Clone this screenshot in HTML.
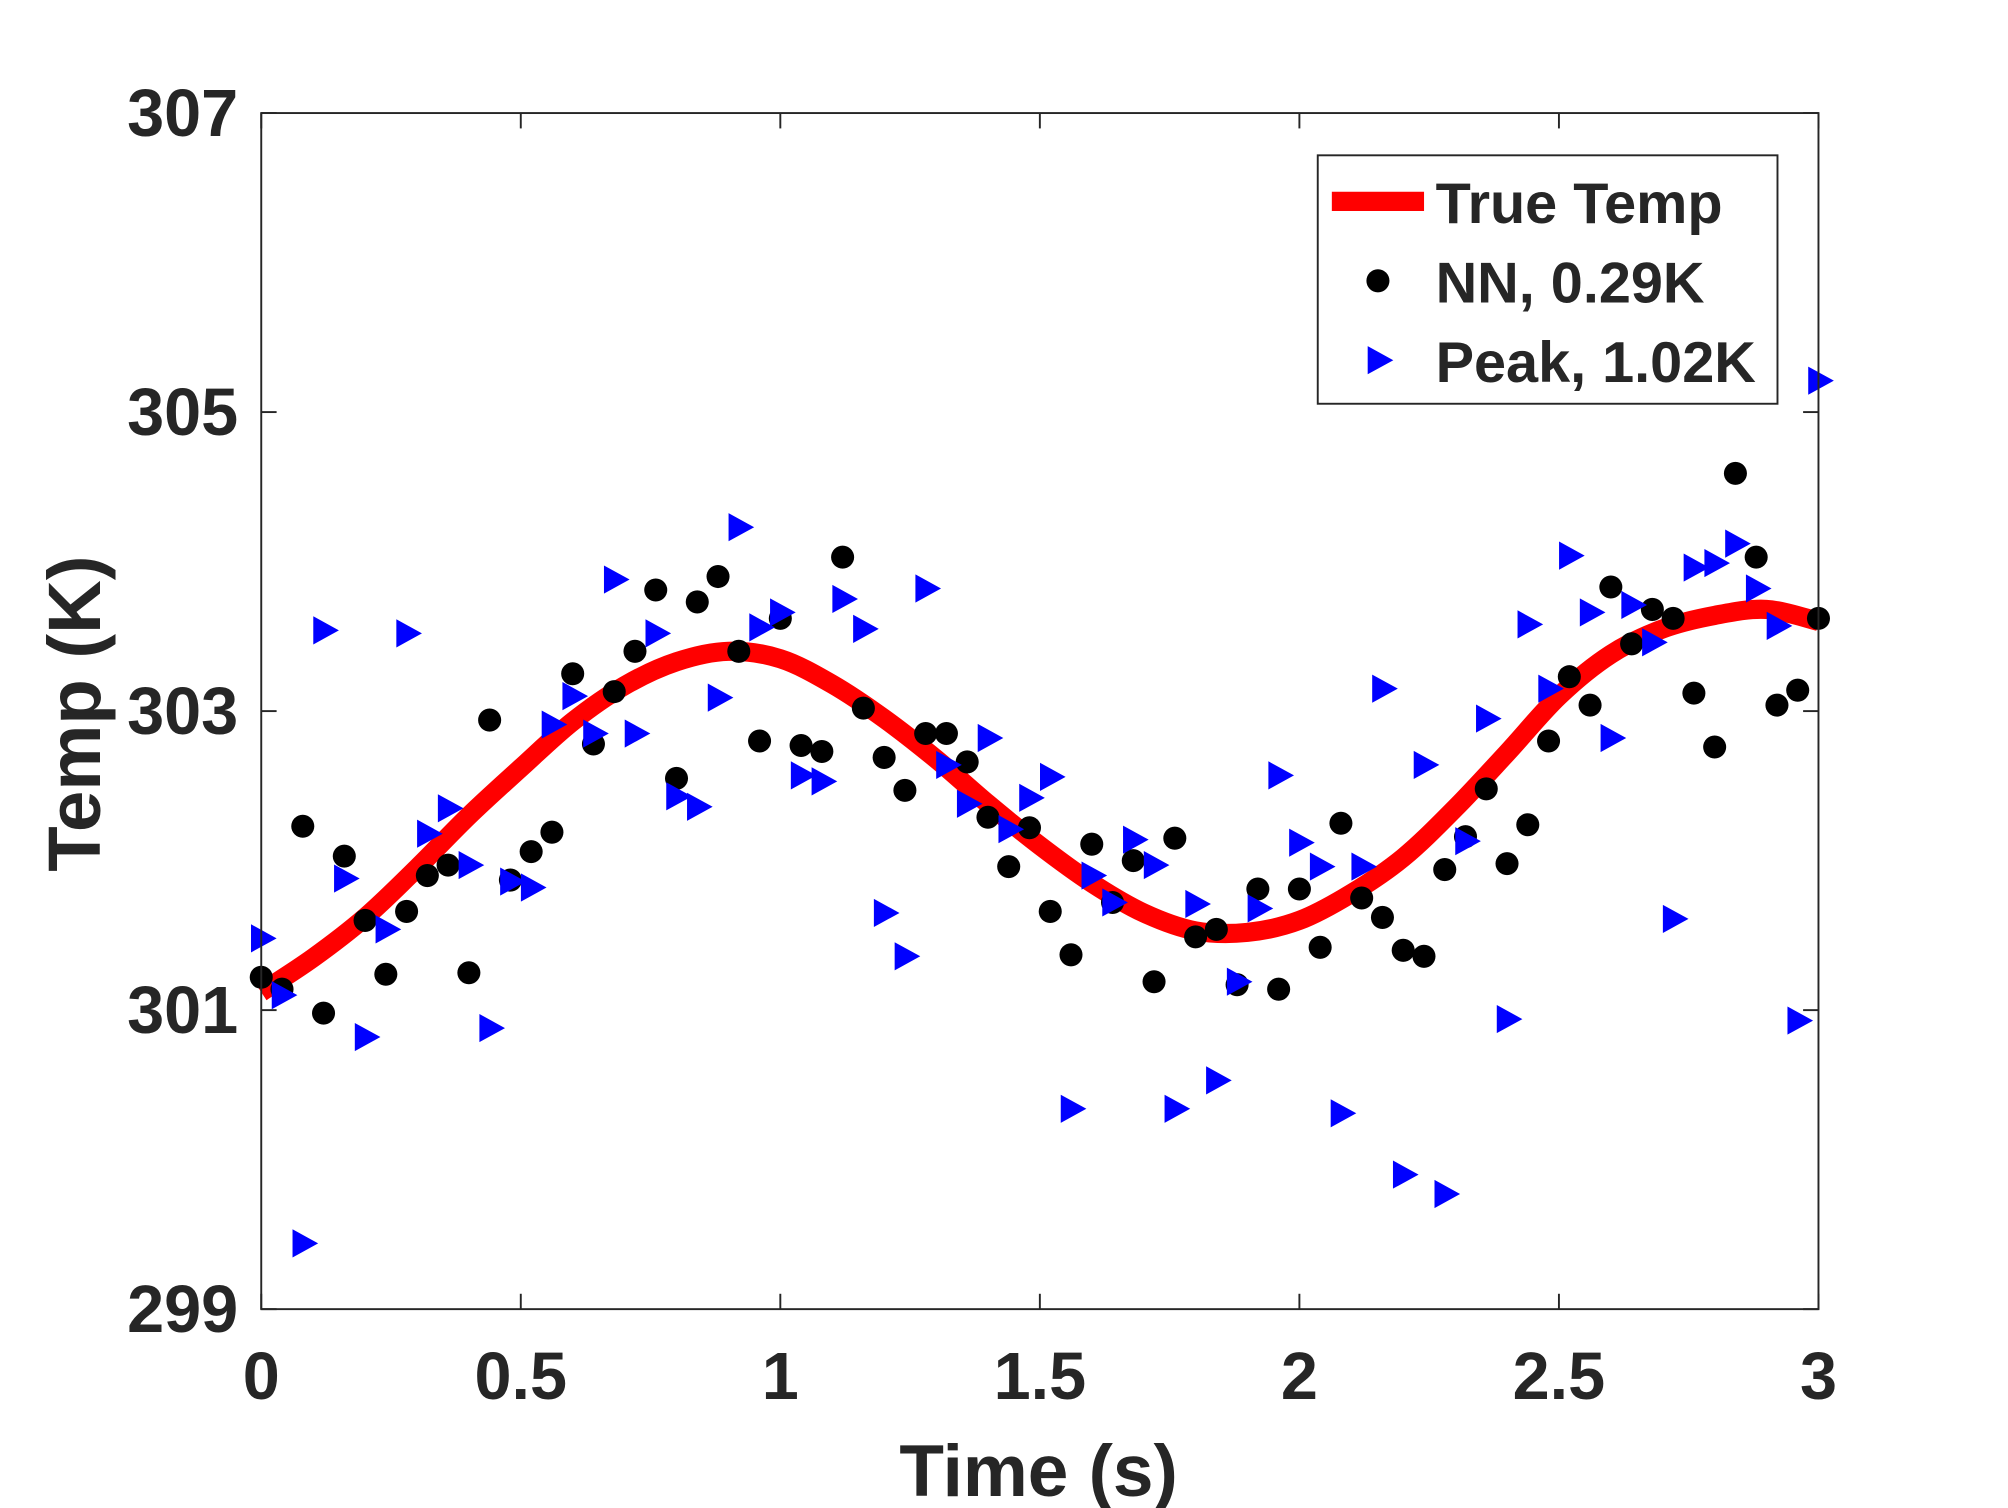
<!DOCTYPE html>
<html><head><meta charset="utf-8"><style>html,body{margin:0;padding:0;background:#fff}svg{display:block}text{font-family:"Liberation Sans",Arial,sans-serif;font-weight:bold;fill:#262626}</style></head>
<body>
<svg id="chart" width="2008" height="1508" viewBox="0 0 1568 1177" xmlns="http://www.w3.org/2000/svg">
<rect width="1568" height="1177" fill="#fff"/>
<g id="plot"></g>
<text x="811" y="1168" text-anchor="middle" font-size="57">Time (s)</text>
<text transform="translate(78,557) rotate(-90)" text-anchor="middle" font-size="58">Temp (K)</text>
<g>
<rect x="1029" y="121" width="359" height="194" fill="#fff" stroke="#262626" stroke-width="1.5"/>
<line x1="1040" y1="157" x2="1112" y2="157" stroke="#ff0000" stroke-width="15"/>
<text x="1121" y="174" font-size="45">True Temp</text>
<circle cx="1076" cy="219" r="9" fill="#000"/>
<text x="1121" y="236" font-size="45">NN, 0.29K</text>
<polygon points="1068,270 1088,281 1068,292" fill="#0000ff"/>
<text x="1121" y="298" font-size="45">Peak, 1.02K</text>
</g>
</svg>
<script>
const xTicks=[0,0.5,1,1.5,2,2.5,3];
const xTickLabels=["0","0.5","1","1.5","2","2.5","3"];
const yTicks=[299,301,303,305,307];
const yTickLabels=["299","301","303","305","307"];
const trueTemp=[301.12,301.35,301.62,301.95,302.3,302.62,302.93,303.17,303.33,303.40,303.35,303.18,302.95,302.68,302.38,302.1,301.85,301.65,301.53,301.52,301.6,301.78,302.02,302.35,302.72,303.1,303.38,303.55,303.64,303.68,303.60];
const nnTemp=[301.22,301.14,302.23,300.98,302.03,301.60,301.24,301.66,301.90,301.97,301.25,302.94,301.87,302.06,302.19,303.25,302.78,303.13,303.40,303.81,302.55,303.73,303.90,303.40,302.80,303.62,302.77,302.73,304.03,303.02,302.69,302.47,302.85,302.85,302.66,302.29,301.96,302.22,301.66,301.37,302.11,301.72,302.00,301.19,302.15,301.49,301.54,301.17,301.81,301.14,301.81,301.42,302.25,301.75,301.62,301.40,301.36,301.94,302.16,302.48,301.98,302.24,302.80,303.23,303.04,303.83,303.45,303.68,303.62,303.12,302.76,304.59,304.03,303.04,303.14,303.62];
const peakTemp=[301.48,301.10,299.44,303.54,301.88,300.82,301.54,303.52,302.18,302.35,301.97,300.88,301.86,301.82,302.91,303.10,302.85,303.88,302.85,303.52,302.43,302.36,303.09,304.23,303.56,303.66,302.57,302.53,303.75,303.55,301.65,301.36,303.82,302.64,302.38,302.82,302.21,302.42,302.56,300.34,301.90,301.72,302.14,301.97,300.34,301.71,300.53,301.19,301.68,302.57,302.12,301.96,300.31,301.96,303.15,299.90,302.64,299.77,302.13,302.95,300.94,303.58,303.15,304.04,303.66,302.82,303.71,303.46,301.61,303.96,303.99,304.12,303.82,303.57,300.93,305.21];
const NS="http://www.w3.org/2000/svg";
const L=204,R=1420,T=88,B=1022;
const sx=v=>L+(v-0)/(3-0)*(R-L);
const sy=v=>B-(v-299)/(307-299)*(B-T);
const g=document.getElementById('plot');
function mk(tag,attrs,parent){const e=document.createElementNS(NS,tag);for(const k in attrs)e.setAttribute(k,attrs[k]);(parent||g).appendChild(e);return e;}
// true temp, smoothed (Catmull-Rom)
const P=trueTemp.map((v,i)=>[sx(i*0.1),sy(v)]);
let d='M'+P[0][0]+','+P[0][1];
for(let i=0;i<P.length-1;i++){const p0=P[Math.max(0,i-1)],p1=P[i],p2=P[i+1],p3=P[Math.min(P.length-1,i+2)];
const c1=[p1[0]+(p2[0]-p0[0])/6,p1[1]+(p2[1]-p0[1])/6],c2=[p2[0]-(p3[0]-p1[0])/6,p2[1]-(p3[1]-p1[1])/6];
d+=` C${c1[0]},${c1[1]} ${c2[0]},${c2[1]} ${p2[0]},${p2[1]}`;}
const line=mk('path',{d:d,fill:'none',stroke:'#ff0000','stroke-width':15});


nnTemp.forEach((v,i)=>{const c=mk('circle',{cx:sx(i*0.04),cy:sy(v),r:9,fill:'#000'});

});
peakTemp.forEach((v,i)=>{const x=sx(i*0.04),y=sy(v);const p=mk('polygon',{points:`${x-8},${y-11} ${x+12},${y} ${x-8},${y+11}`,fill:'#0000ff'});

});
const box=mk('rect',{x:L,y:T,width:R-L,height:B-T,fill:'none',stroke:'#262626','stroke-width':1.5});


xTicks.forEach((v,i)=>{const x=sx(v);
mk('line',{x1:x,y1:B,x2:x,y2:B-12,stroke:'#262626','stroke-width':1.5});
mk('line',{x1:x,y1:T,x2:x,y2:T+12,stroke:'#262626','stroke-width':1.5});
const t=mk('text',{x:x,y:1092,'text-anchor':'middle','font-size':52});t.textContent=xTickLabels[i];

});
yTicks.forEach((v,i)=>{const y=sy(v);
mk('line',{x1:L,y1:y,x2:L+12,y2:y,stroke:'#262626','stroke-width':1.5});
mk('line',{x1:R,y1:y,x2:R-12,y2:y,stroke:'#262626','stroke-width':1.5});
const t=mk('text',{x:186,y:y+18,'text-anchor':'end','font-size':52});t.textContent=yTickLabels[i];

});
</script>
</body></html>
